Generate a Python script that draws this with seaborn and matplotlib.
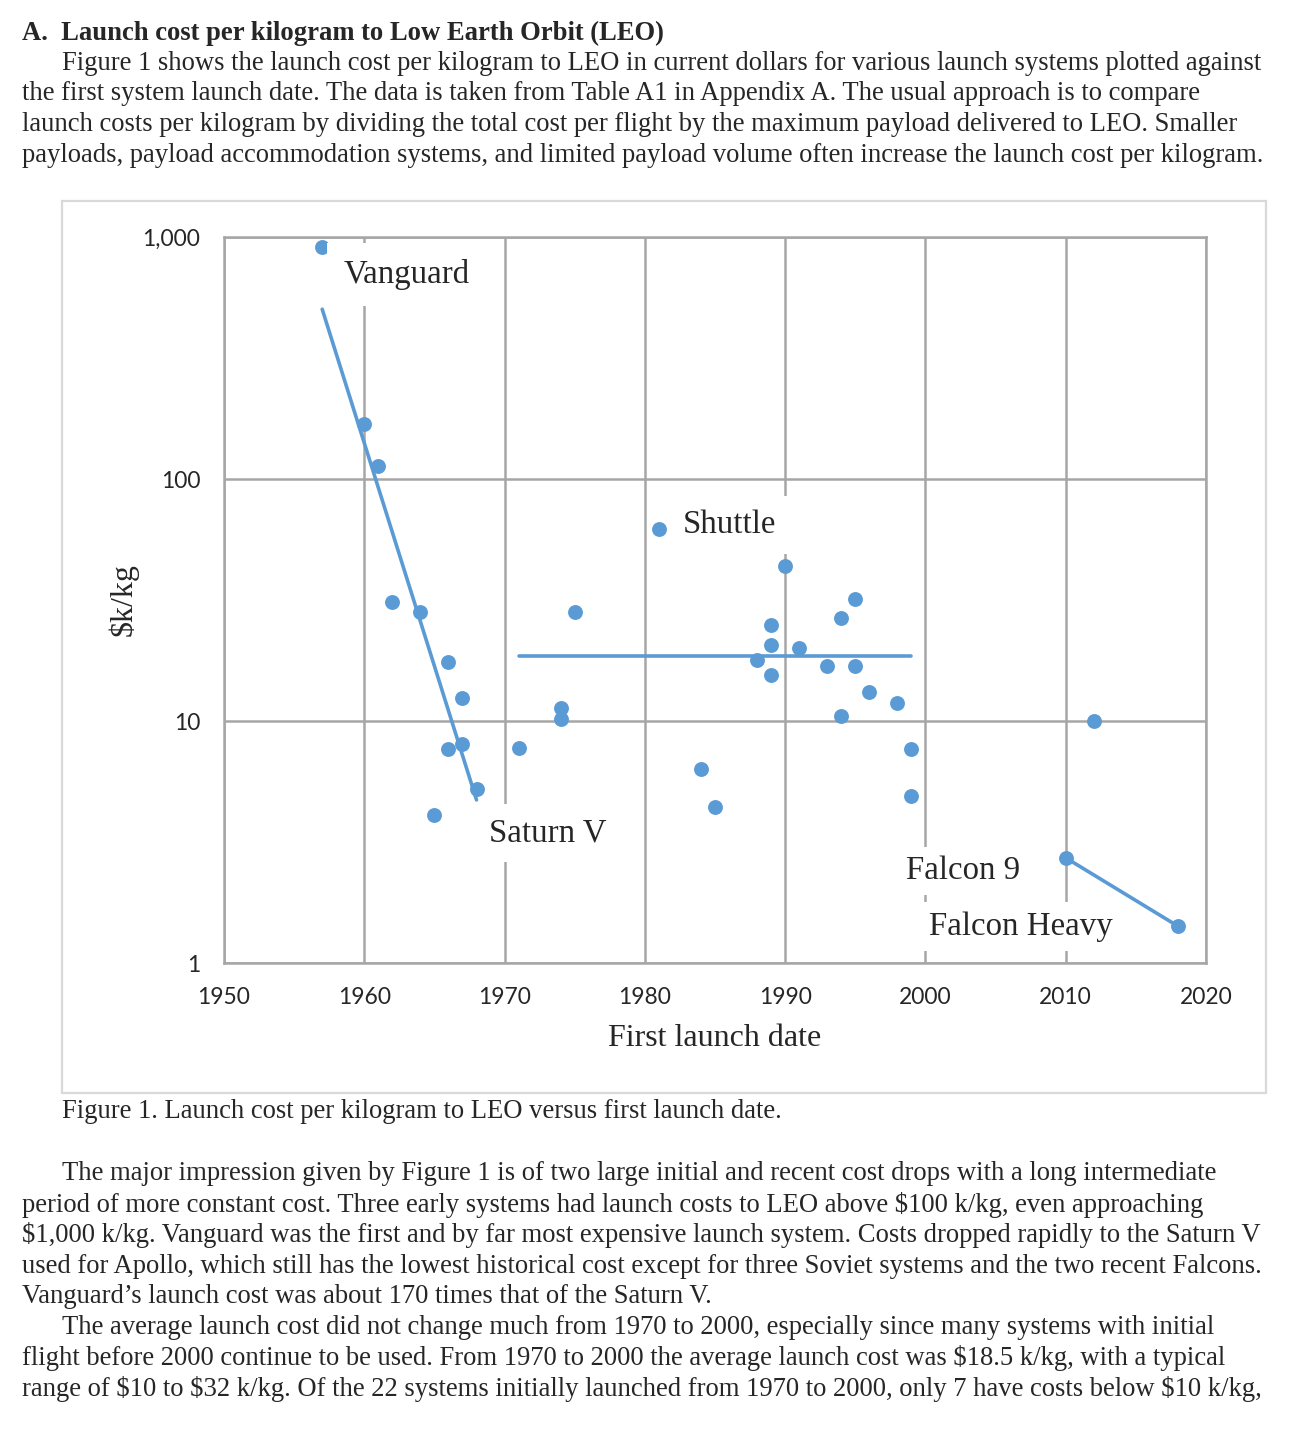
import matplotlib
matplotlib.use("Agg")
import matplotlib.pyplot as plt
from matplotlib.patches import Rectangle
from matplotlib.ticker import FixedLocator, NullLocator
import pandas as pd
import seaborn as sns

# launch systems: first launch year and cost ($k/kg)
years = [1957, 1960, 1961, 1962, 1964, 1965, 1966, 1966, 1967, 1967, 1968,
         1971, 1974, 1974, 1975, 1981, 1984, 1985, 1988, 1989, 1989, 1989,
         1990, 1991, 1993, 1994, 1994, 1995, 1995, 1996, 1998, 1999, 1999,
         2010, 2012, 2018]
cost = [910, 169, 113, 31, 28.2, 4.1, 17.5, 7.65, 12.4, 8.0, 5.24,
        7.7, 11.3, 10.2, 28.2, 62, 6.34, 4.42, 17.9, 25, 20.6, 15.5,
        43.6, 20.0, 16.9, 26.7, 10.5, 31.9, 16.8, 13.2, 11.9, 7.65, 4.9,
        2.72, 10.0, 1.42]

# trend lines
early_x = [1957, 1968]
early_y = [503, 4.72]
mid_x = [1971, 1999]
mid_y = [18.5, 18.5]
falcon_x = [2010, 2018]
falcon_y = [2.72, 1.42]

x_ticks = [1950, 1960, 1970, 1980, 1990, 2000, 2010, 2020]
y_ticks = [1, 10, 100, 1000]
y_tick_labels = ["1", "10", "100", "1,000"]

# (text, x, y, pad)
labels = [("Vanguard", 1963.0, 700, 0.5),
          ("Saturn V", 1973.1, 3.44, 0.42),
          ("Shuttle", 1986.0, 64.6, 0.42),
          ("Falcon 9", 2002.7, 2.40, 0.28),
          ("Falcon Heavy", 2006.8, 1.41, 0.28)]

top_title = "A.  Launch cost per kilogram to Low Earth Orbit (LEO)"
top_lines = [
    "Figure 1 shows the launch cost per kilogram to LEO in current dollars for various launch systems plotted against",
    "the first system launch date. The data is taken from Table A1 in Appendix A. The usual approach is to compare",
    "launch costs per kilogram by dividing the total cost per flight by the maximum payload delivered to LEO. Smaller",
    "payloads, payload accommodation systems, and limited payload volume often increase the launch cost per kilogram.",
]
caption = "Figure 1. Launch cost per kilogram to LEO versus first launch date."
bottom_lines = [
    "The major impression given by Figure 1 is of two large initial and recent cost drops with a long intermediate",
    "period of more constant cost. Three early systems had launch costs to LEO above $100 k/kg, even approaching",
    "$1,000 k/kg. Vanguard was the first and by far most expensive launch system. Costs dropped rapidly to the Saturn V",
    "used for Apollo, which still has the lowest historical cost except for three Soviet systems and the two recent Falcons.",
    "Vanguard\u2019s launch cost was about 170 times that of the Saturn V.",
    "The average launch cost did not change much from 1970 to 2000, especially since many systems with initial",
    "flight before 2000 continue to be used. From 1970 to 2000 the average launch cost was $18.5 k/kg, with a typical",
    "range of $10 to $32 k/kg. Of the 22 systems initially launched from 1970 to 2000, only 7 have costs below $10 k/kg,",
]
indented = [0, 5]

sns.set_style("white")
plt.rcParams['font.family'] = ['Liberation Serif', 'DejaVu Serif']

W, H = 1304, 1436
fig = plt.figure(figsize=(W / 100, H / 100), dpi=100)

BLUE = "#5B9BD5"
GRID = "#A6A6A6"
BODY = 19.2


def fx(px):
    return px / W


def fy(py):
    return 1 - py / H


def body_text(px, py, s, **kw):
    fig.text(fx(px), fy(py), s, fontsize=BODY, va='center', ha='left',
             parse_math=False, **kw)


# text above the chart
body_text(22, 33, top_title, fontweight='bold')
for i, line in enumerate(top_lines):
    body_text(62 if i == 0 else 22, 63 + i * 30.7, line)

# chart frame
fig.patches.append(Rectangle((fx(62), fy(1093)), fx(1266) - fx(62), fy(201) - fy(1093),
                             transform=fig.transFigure, fill=False,
                             edgecolor="#D9D9D9", linewidth=1.6))

ax = fig.add_axes([fx(224), fy(963), fx(1206) - fx(224), fy(237) - fy(963)])

df = pd.DataFrame({"year": years, "cost": cost})
sns.lineplot(x=early_x, y=early_y, ax=ax, color=BLUE, linewidth=2.6, zorder=3)
sns.lineplot(x=mid_x, y=mid_y, ax=ax, color=BLUE, linewidth=2.6, zorder=3)
sns.lineplot(x=falcon_x, y=falcon_y, ax=ax, color=BLUE, linewidth=2.6, zorder=3)
sns.scatterplot(data=df, x="year", y="cost", ax=ax, color=BLUE, s=115,
                linewidth=0, zorder=4)

ax.set_yscale('log')
ax.set_xlim(1950, 2020)
ax.set_ylim(1, 1000)
ax.xaxis.set_major_locator(FixedLocator(x_ticks))
ax.yaxis.set_major_locator(FixedLocator(y_ticks))
ax.yaxis.set_minor_locator(NullLocator())
ax.set_yticklabels(y_tick_labels)
ax.set_xticklabels([str(t) for t in x_ticks])
ax.grid(True, which='major', color=GRID, linewidth=1.8)
ax.set_axisbelow(True)
for sp in ax.spines.values():
    sp.set_color(GRID)
    sp.set_linewidth(1.8)
ax.tick_params(length=0, labelsize=16.5, labelcolor="#262626", pad=17)
for t in ax.get_xticklabels() + ax.get_yticklabels():
    t.set_family(['Lato', 'DejaVu Sans'])

ax.set_xlabel("First launch date", fontsize=23, labelpad=12)
ax.set_ylabel("$k/kg", fontsize=23, labelpad=3, parse_math=False)

for text, x, y, pad in labels:
    ax.text(x, y, text, fontsize=23.7, ha='center', va='center', zorder=5,
            bbox=dict(facecolor='white', edgecolor='none', boxstyle=f'square,pad={pad}'))

# caption and text below
body_text(62, 1112, caption)
for i, line in enumerate(bottom_lines):
    body_text(62 if i in indented else 22, 1174 + i * 30.7, line)

fig.savefig("out.png", dpi=100)
